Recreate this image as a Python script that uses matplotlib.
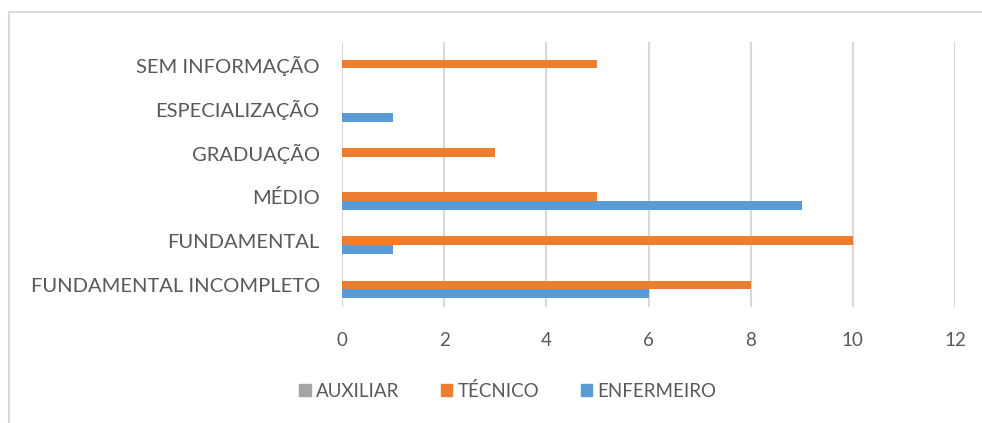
import numpy as np
import matplotlib.pyplot as plt
from matplotlib.patches import Rectangle, Patch

plt.rcParams['font.family'] = ['Lato', 'DejaVu Sans']

categorias = ["FUNDAMENTAL INCOMPLETO", "FUNDAMENTAL", "MÉDIO",
              "GRADUAÇÃO", "ESPECIALIZAÇÃO", "SEM INFORMAÇÃO"]
enfermeiro = [6, 1, 9, 0, 1, 0]
tecnico = [8, 10, 5, 3, 0, 5]
auxiliar = [0, 0, 0, 0, 0, 0]

cor_enf = "#5B9BD5"
cor_tec = "#ED7D31"
cor_aux = "#A5A5A5"
cor_texto = "#595959"
cor_grade = "#D9D9D9"

fig = plt.figure(figsize=(9.82, 4.23), dpi=100)
ax = fig.add_axes([342/982, 1 - 307/423, (955 - 342)/982, (307 - 42)/423])

y = np.arange(len(categorias))
h = 0.2
ax.barh(y - h, enfermeiro, height=h, color=cor_enf, label="ENFERMEIRO", zorder=3)
ax.barh(y, tecnico, height=h, color=cor_tec, label="TÉCNICO", zorder=3)
ax.barh(y + h, auxiliar, height=h, color=cor_aux, label="AUXILIAR", zorder=3)

ax.set_xlim(0, 12)
ax.set_ylim(-0.5, len(categorias) - 0.5)
ax.set_xticks(range(0, 13, 2))
ax.set_yticks(y)
ax.set_yticklabels(categorias)
ax.tick_params(axis='both', length=0, colors=cor_texto)
ax.tick_params(axis='y', labelsize=14.5, pad=16)
ax.tick_params(axis='x', labelsize=13.5, pad=18)
ax.grid(axis='x', color=cor_grade, linewidth=1.5, zorder=0)
for s in ax.spines.values():
    s.set_visible(False)

handles = [Patch(color=cor_aux, label="AUXILIAR"),
           Patch(color=cor_tec, label="TÉCNICO"),
           Patch(color=cor_enf, label="ENFERMEIRO")]
fig.legend(handles=handles, loc='center', bbox_to_anchor=(508/982, 1 - 391/423),
           ncol=3, frameon=False, fontsize=13.5, labelcolor=cor_texto,
           handlelength=0.6, handleheight=0.6, handletextpad=0.3, columnspacing=2.2)

# moldura do grafico
fig.patches.append(Rectangle((9/982, -0.1), 1.2, 1 - 12/423 + 0.1,
                             transform=fig.transFigure, fill=False,
                             edgecolor=cor_grade, linewidth=1.5))

fig.savefig("out.png", dpi=100)
